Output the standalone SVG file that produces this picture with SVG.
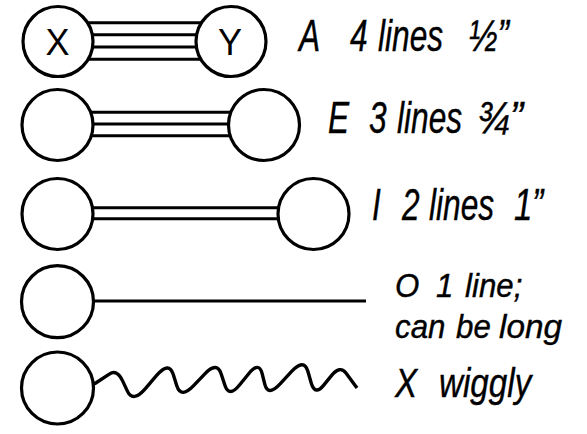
<svg xmlns="http://www.w3.org/2000/svg" width="587" height="434" viewBox="0 0 587 434">
<style>
.node{fill:#fff;stroke:#000;stroke-width:3.2}
.edge{fill:none;stroke:#000;stroke-width:3;stroke-linecap:butt}
.wig{fill:none;stroke:#000;stroke-width:3.4;stroke-linecap:butt;stroke-linejoin:round}
.nt{font-family:"Liberation Sans",Arial,sans-serif;font-size:36px;text-anchor:middle;fill:#000}
.lb{font-family:"Liberation Sans",Arial,sans-serif;font-style:italic;fill:#000;stroke:#000;stroke-width:0.4}
.big{font-size:44px}
.mid{font-size:40px}
.sm{font-size:34px}
</style>
<rect width="587" height="434" fill="#fff"/>
<g id="connectors">
<line class="edge" x1="58" y1="22.8" x2="231" y2="22.8"/>
<line class="edge" x1="58" y1="34.8" x2="231" y2="34.8"/>
<line class="edge" x1="58" y1="47" x2="231" y2="47"/>
<line class="edge" x1="58" y1="59.2" x2="231" y2="59.2"/>
<line class="edge" x1="57.5" y1="112.3" x2="264" y2="112.3"/>
<line class="edge" x1="57.5" y1="124" x2="264" y2="124"/>
<line class="edge" x1="57.5" y1="135.7" x2="264" y2="135.7"/>
<line class="edge" x1="57.5" y1="207.8" x2="313.5" y2="207.8"/>
<line class="edge" x1="57.5" y1="218.8" x2="313.5" y2="218.8"/>
<line class="edge" x1="57.5" y1="301" x2="366" y2="301"/>
<path class="wig" d="M80,390 L95,383.5 L109.3,374.1 Q117,369 122.6,380.9 L127.4,391.1 Q133,403 145.6,388.3 L156.4,375.7 Q169,361 173.2,374.3 L176.8,385.7 Q181,399 193.6,385.7 L204.4,374.3 Q217,361 221.2,373.95 L224.8,385.05 Q229,398 239.5,385.05 L248.5,373.95 Q259,361 262.15,373.6 L264.85,384.4 Q268,397 280.6,383.35 L291.4,371.65 Q304,358 307.85,371.3 L311.15,382.7 Q315,396 323.75,385.15 L331.25,375.85 Q340,365 345.95,373.05 L357,388"/>
</g>
<g id="node-x"><circle class="node" cx="58" cy="41.5" r="35"/><text class="nt" x="57.5" y="55">X</text></g>
<g id="node-y"><circle class="node" cx="231" cy="41.5" r="35"/><text class="nt" x="230" y="55">Y</text></g>
<g id="node-e1"><circle class="node" cx="57.5" cy="125" r="35.5"/></g>
<g id="node-e2"><circle class="node" cx="264" cy="125" r="35.5"/></g>
<g id="node-i1"><circle class="node" cx="57.5" cy="214" r="35.5"/></g>
<g id="node-i2"><circle class="node" cx="313.5" cy="214" r="35.5"/></g>
<g id="node-o"><circle class="node" cx="57.5" cy="301.7" r="36"/></g>
<g id="node-w"><circle class="node" cx="57.5" cy="388" r="36"/></g>
<g id="label-a" class="lb big">
<text transform="translate(299,51) scale(0.72,1)">A</text>
<text transform="translate(350,51) scale(0.72,1)">4</text>
<text transform="translate(378,51) scale(0.72,1)">lines</text>
<text transform="translate(469,51) scale(0.78,1)">½”</text>
</g>
<g id="label-e" class="lb big">
<text transform="translate(328,133) scale(0.72,1)">E</text>
<text transform="translate(369,133) scale(0.72,1)">3</text>
<text transform="translate(397,133) scale(0.72,1)">lines</text>
<text transform="translate(477,133) scale(0.9,1)">¾”</text>
</g>
<g id="label-i" class="lb big">
<text transform="translate(372,220) scale(0.72,1)">I</text>
<text transform="translate(402,220) scale(0.72,1)">2</text>
<text transform="translate(429,220) scale(0.72,1)">lines</text>
<text transform="translate(514,220) scale(0.75,1)">1”</text>
</g>
<g id="label-o" class="lb sm">
<text transform="translate(395,297) scale(0.92,1)">O</text>
<text transform="translate(436,297) scale(0.92,1)">1</text>
<text transform="translate(465,297) scale(0.92,1)">line;</text>
<text transform="translate(395,338) scale(0.92,1)">can</text>
<text transform="translate(456,338) scale(0.92,1)">be</text>
<text transform="translate(499,338) scale(0.98,1)">long</text>
</g>
<g id="label-x" class="lb mid">
<text transform="translate(395,396.5) scale(0.83,1)">X</text>
<text transform="translate(439,396.5) scale(0.83,1)">wiggly</text>
</g>
</svg>
